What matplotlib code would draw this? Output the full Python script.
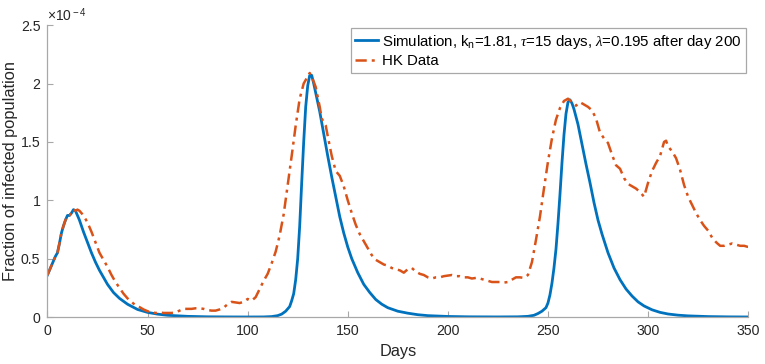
import matplotlib
matplotlib.use("Agg")
import matplotlib.pyplot as plt
from matplotlib.ticker import FormatStrFormatter

# values are fraction of infected population in units of 1e-4
sim_days = [0, 2, 3, 4, 5, 6, 7, 8, 9, 10, 11, 12, 13, 14, 16, 18, 20, 22, 24, 26, 28, 30,
            33, 36, 40, 45, 50, 55, 60, 70, 80, 90, 100, 108, 112, 115, 117, 119, 121, 122,
            123, 124, 125, 126, 127, 128, 129, 130, 131, 132, 133, 134, 136, 138, 140, 142,
            144, 146, 148, 150, 152, 155, 158, 161, 164, 167, 170, 175, 180, 185, 190, 200,
            210, 225, 235, 240, 243, 245, 247, 249, 250, 251, 252, 253, 254, 255, 256, 257,
            258, 259, 260, 261, 262, 263, 265, 267, 269, 271, 273, 275, 277, 280, 283, 286,
            289, 292, 295, 298, 302, 306, 310, 315, 320, 330, 340, 350]
sim_vals = [0.36, 0.44, 0.48, 0.52, 0.55, 0.63, 0.72, 0.78, 0.83, 0.87, 0.87, 0.89, 0.92, 0.91,
            0.83, 0.73, 0.64, 0.55, 0.47, 0.40, 0.34, 0.28, 0.21, 0.16, 0.11, 0.065, 0.04,
            0.025, 0.015, 0.006, 0.002, 0.001, 0.0005, 0.001, 0.004, 0.012, 0.025, 0.05, 0.09,
            0.14, 0.2, 0.32, 0.5, 0.78, 1.15, 1.5, 1.8, 1.98, 2.07, 2.07, 2.0, 1.92, 1.76,
            1.57, 1.38, 1.2, 1.03, 0.86, 0.72, 0.6, 0.5, 0.38, 0.28, 0.21, 0.15, 0.11, 0.08,
            0.05, 0.033, 0.02, 0.012, 0.005, 0.002, 0.001, 0.002, 0.006, 0.015, 0.03, 0.05,
            0.08, 0.12, 0.19, 0.29, 0.42, 0.58, 0.8, 1.05, 1.32, 1.56, 1.74, 1.84, 1.86, 1.83,
            1.78, 1.65, 1.48, 1.31, 1.15, 0.98, 0.83, 0.71, 0.55, 0.42, 0.32, 0.24, 0.18, 0.13,
            0.095, 0.062, 0.04, 0.026, 0.016, 0.01, 0.004, 0.0015, 0.0006]

hk_days = [0, 2, 3, 4, 5, 6, 7, 8, 9, 10, 11, 12, 13, 14, 15, 16, 17, 18, 20, 22, 24, 26, 28,
           30, 32, 34, 36, 38, 40, 42, 44, 46, 48, 50, 52, 54, 56, 58, 60, 62, 64, 66, 68, 70,
           72, 74, 76, 78, 80, 82, 84, 86, 88, 90, 92, 94, 96, 98, 100, 102, 104, 106, 108,
           110, 112, 114, 116, 118, 120, 122, 124, 126, 128, 130, 131, 132, 134, 136, 137,
           138, 139, 140, 142, 144, 146, 148, 150, 152, 154, 156, 158, 160, 162, 164, 166,
           168, 170, 172, 174, 176, 178, 180, 182, 184, 186, 188, 190, 192, 194, 196, 198,
           200, 202, 204, 206, 208, 210, 212, 214, 216, 218, 220, 222, 224, 226, 228, 230,
           232, 234, 236, 238, 240, 242, 244, 246, 248, 250, 252, 254, 256, 258, 260, 262,
           264, 266, 268, 270, 272, 274, 276, 278, 280, 282, 284, 286, 288, 290, 292, 294,
           296, 298, 300, 302, 304, 306, 308, 309, 310, 312, 314, 316, 318, 320, 322, 324,
           326, 328, 330, 332, 334, 336, 338, 340, 342, 344, 346, 348, 350]
hk_vals = [0.36, 0.44, 0.48, 0.52, 0.55, 0.63, 0.72, 0.78, 0.83, 0.87, 0.87, 0.89, 0.92, 0.91,
           0.92, 0.91, 0.89, 0.87, 0.81, 0.73, 0.64, 0.55, 0.49, 0.43, 0.36, 0.30, 0.25, 0.20,
           0.16, 0.13, 0.10, 0.085, 0.065, 0.05, 0.04, 0.035, 0.04, 0.035, 0.035, 0.035, 0.04,
           0.055, 0.07, 0.07, 0.07, 0.075, 0.075, 0.07, 0.06, 0.055, 0.055, 0.065, 0.08, 0.11,
           0.13, 0.125, 0.12, 0.13, 0.155, 0.14, 0.17, 0.24, 0.31, 0.37, 0.46, 0.56, 0.70, 0.88,
           1.13, 1.38, 1.64, 1.87, 2.00, 2.06, 2.09, 2.06, 1.97, 1.80, 1.70, 1.67, 1.64, 1.55,
           1.38, 1.25, 1.21, 1.12, 1.0, 0.89, 0.79, 0.71, 0.65, 0.59, 0.53, 0.49, 0.47, 0.45,
           0.44, 0.42, 0.41, 0.40, 0.38, 0.41, 0.42, 0.39, 0.37, 0.36, 0.34, 0.33, 0.34, 0.34,
           0.35, 0.355, 0.36, 0.35, 0.35, 0.34, 0.34, 0.33, 0.335, 0.33, 0.32, 0.31, 0.30, 0.30,
           0.30, 0.295, 0.30, 0.32, 0.34, 0.34, 0.335, 0.36, 0.47, 0.66, 0.86, 1.10, 1.33, 1.53,
           1.69, 1.79, 1.85, 1.87, 1.84, 1.81, 1.84, 1.82, 1.80, 1.77, 1.70, 1.58, 1.53, 1.49,
           1.39, 1.30, 1.27, 1.19, 1.14, 1.12, 1.10, 1.07, 1.03, 1.15, 1.25, 1.32, 1.38, 1.50,
           1.51, 1.46, 1.42, 1.36, 1.26, 1.13, 1.03, 0.96, 0.89, 0.83, 0.78, 0.74, 0.68, 0.64,
           0.61, 0.61, 0.62, 0.63, 0.62, 0.61, 0.61, 0.60]

sim_label = r'Simulation, k$_{\rm n}$=1.81, $\tau$=15 days, $\lambda$=0.195 after day 200'
hk_label = 'HK Data'

plt.rcParams['font.family'] = ['Liberation Sans', 'DejaVu Sans']
plt.rcParams['mathtext.fontset'] = 'custom'
plt.rcParams['mathtext.rm'] = 'Liberation Sans'
plt.rcParams['mathtext.it'] = 'Liberation Serif:italic'

axis_gray = '#a8a8a8'
text_col = '#262626'

fig = plt.figure(figsize=(7.65, 3.64), dpi=100)
ax = fig.add_axes([0.062, 0.129, 0.916, 0.802])

ax.plot(sim_days, sim_vals, color='#0072BD', lw=2.0, label=sim_label)
ax.plot(hk_days, hk_vals, color='#D95319', lw=1.8, ls=(0, (4.5, 2.0, 1.2, 2.0)), label=hk_label)

ax.set_xlim(0, 350)
ax.set_ylim(0, 2.5)
ax.set_xticks([0, 50, 100, 150, 200, 250, 300, 350])
ax.set_yticks([0, 0.5, 1, 1.5, 2, 2.5])
ax.yaxis.set_major_formatter(FormatStrFormatter('%g'))

for side in ['top', 'right']:
    ax.spines[side].set_visible(False)
for side in ['left', 'bottom']:
    ax.spines[side].set_color(axis_gray)
    ax.spines[side].set_linewidth(0.9)
ax.tick_params(direction='in', length=4, width=0.8, color=axis_gray,
               labelcolor=text_col, labelsize=10.2, pad=5)

ax.set_xlabel('Days', fontsize=11.8, color=text_col, labelpad=4)
ax.set_ylabel('Fraction of infected population', fontsize=11.8, color=text_col, labelpad=2)

ax.text(0.0, 1.005, r'$\times$10$^{\rm -4}$', transform=ax.transAxes, fontsize=10,
        color=text_col, va='bottom', ha='left')

leg = ax.legend(loc='upper right', bbox_to_anchor=(0.997, 0.99), fontsize=10.8,
                fancybox=False, framealpha=1, edgecolor=axis_gray, borderaxespad=0,
                handlelength=1.5, handletextpad=0.3, labelspacing=0.25, borderpad=0.3)
leg.get_frame().set_linewidth(0.9)
for t in leg.get_texts():
    t.set_color('black')

fig.savefig('out.png', dpi=100)
